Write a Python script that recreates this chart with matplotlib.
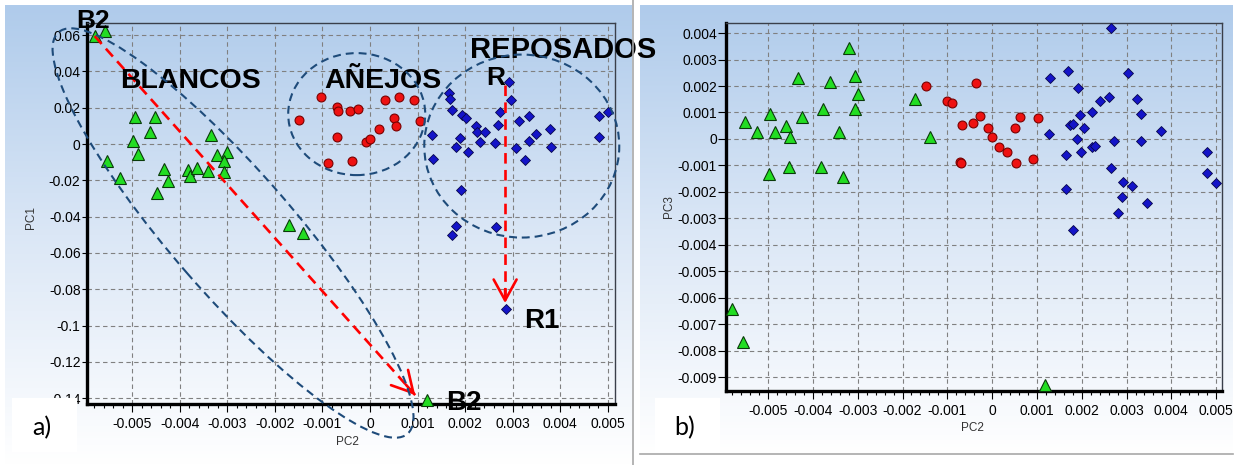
import numpy as np
import matplotlib
matplotlib.use("Agg")
import matplotlib.pyplot as plt
from matplotlib.patches import Ellipse, Rectangle
from matplotlib.lines import Line2D
from matplotlib.colors import LinearSegmentedColormap
from matplotlib.ticker import MultipleLocator, FuncFormatter
from matplotlib.transforms import IdentityTransform

plt.rcParams['font.family'] = ['Liberation Sans', 'DejaVu Sans']
plt.rcParams['axes.unicode_minus'] = False

# ---- panel a) PC2 vs PC1 ----
blancos_pc2_a = [-0.00579, -0.00558, -0.00494, -0.00453, -0.00462, -0.00499, -0.00487, -0.00553,
                 -0.00525, -0.00433, -0.00424, -0.00448, -0.00335, -0.00321, -0.00300, -0.00307,
                 -0.00307, -0.00383, -0.00378, -0.00363, -0.00340, -0.00170, -0.00140, 0.00119]
blancos_pc1 = [0.0595, 0.0624, 0.0147, 0.0147, 0.0064, 0.0018, -0.0055, -0.0092,
               -0.0189, -0.0138, -0.0204, -0.0268, 0.0050, -0.0061, -0.0046, -0.0092,
               -0.0153, -0.0143, -0.0175, -0.0134, -0.0149, -0.0446, -0.0492, -0.1410]

anejos_pc2_a = [-0.00149, -0.00103, -0.00070, -0.00067, -0.00042, -0.00025, 0.00032, 0.00061, 0.00092,
                0.00051, 0.00054, 0.00105, 0.00019, -0.00070, -0.00009, -0.00001, -0.00088, -0.00037]
anejos_pc1 = [0.0132, 0.0261, 0.0206, 0.0182, 0.0182, 0.0191, 0.0242, 0.0261, 0.0242,
              0.0142, 0.0099, 0.0128, 0.0081, 0.0040, 0.0009, 0.0026, -0.0106, -0.0092]

reposados_pc2_a = [0.00293, 0.00296, 0.00167, 0.00168, 0.00173, 0.00194, 0.00201, 0.00273, 0.00314,
                   0.00334, 0.00268, 0.00222, 0.00224, 0.00242, 0.00130, 0.00189, 0.00181, 0.00231,
                   0.00263, 0.00207, 0.00307, 0.00334, 0.00348, 0.00378, 0.00380, 0.00326, 0.00132,
                   0.00191, 0.00481, 0.00501, 0.00481, 0.00180, 0.00172, 0.00265, 0.00285]
reposados_pc1 = [0.0343, 0.0242, 0.0283, 0.0248, 0.0187, 0.0160, 0.0142, 0.0178, 0.0128,
                 0.0156, 0.0105, 0.0101, 0.0068, 0.0068, 0.0050, 0.0035, -0.0015, 0.0013,
                 0.0007, -0.0046, -0.0020, 0.0017, 0.0055, 0.0083, -0.0015, -0.0088, -0.0083,
                 -0.0253, 0.0156, 0.0178, 0.0040, -0.0450, -0.0501, -0.0456, -0.0909]

# ---- panel b) PC2 vs PC3 ----
blancos_pc2_b = [-0.00551, -0.00524, -0.00496, -0.00484, -0.00461, -0.00451, -0.00434, -0.00425,
                 -0.00497, -0.00453, -0.00382, -0.00378, -0.00363, -0.00341, -0.00333, -0.00319,
                 -0.00306, -0.00300, -0.00306, -0.00172, -0.00139, -0.00580, -0.00557, 0.00118]
blancos_pc3 = [0.00063, 0.00028, 0.00095, 0.00028, 0.00049, 0.00009, 0.00232, 0.00082,
               -0.00132, -0.00107, -0.00107, 0.00112, 0.00217, 0.00028, -0.00142, 0.00345,
               0.00236, 0.00170, 0.00113, 0.00150, 0.00009, -0.00642, -0.00766, -0.00930]

anejos_pc2_b = [-0.00148, -0.00101, -0.00090, -0.00036, -0.00068, -0.00043, -0.00027, -0.00010, -0.00001,
                0.00016, 0.00033, -0.00071, -0.00070, 0.00054, 0.00063, 0.00051, 0.00091, 0.00103]
anejos_pc3 = [0.00200, 0.00144, 0.00137, 0.00210, 0.00053, 0.00059, 0.00087, 0.00040, 0.00009,
              -0.00029, -0.00050, -0.00086, -0.00092, -0.00092, 0.00084, 0.00040, -0.00076, 0.00078]

reposados_pc2_b = [0.00266, 0.00170, 0.00129, 0.00304, 0.00191, 0.00261, 0.00241, 0.00323, 0.00222,
                   0.00195, 0.00332, 0.00173, 0.00181, 0.00205, 0.00377, 0.00128, 0.00189, 0.00271,
                   0.00332, 0.00223, 0.00230, 0.00198, 0.00165, 0.00479, 0.00479, 0.00499, 0.00266,
                   0.00293, 0.00313, 0.00290, 0.00345, 0.00282, 0.00165, 0.00180]
reposados_pc3 = [0.00418, 0.00258, 0.00232, 0.00248, 0.00194, 0.00160, 0.00145, 0.00151, 0.00101,
                 0.00091, 0.00094, 0.00053, 0.00057, 0.00043, 0.00031, 0.00018, -0.00001, -0.00006,
                 -0.00006, -0.00029, -0.00025, -0.00048, -0.00060, -0.00050, -0.00130, -0.00167, -0.00108,
                 -0.00161, -0.00178, -0.00220, -0.00243, -0.00281, -0.00189, -0.00344]

# group labels (data coords of panel a)
group_labels = ['BLANCOS', 'AÑEJOS', 'REPOSADOS']
group_label_pos = [(-0.00378, 0.0309), (0.00027, 0.0309), (0.00405, 0.0474)]

W, H = 1239, 465
fig = plt.figure(figsize=(W / 100, H / 100), dpi=100)
fig.patch.set_facecolor('white')

grad = LinearSegmentedColormap.from_list('bg', ['#AFCBEB', '#DBE7F6', '#FFFFFF'])


def panel_bg(x0, y0, x1, y1):
    bg = fig.add_axes([x0 / W, 1 - y1 / H, (x1 - x0) / W, (y1 - y0) / H], zorder=-10)
    bg.imshow(np.linspace(0, 1, 256)[:, None], cmap=grad, aspect='auto')
    bg.set_axis_off()


panel_bg(5, 5, 631, 465)
panel_bg(640, 5, 1233, 454)

fig.add_artist(Line2D([633 / W, 633 / W], [0, 1], color='#A8A8A8', lw=1.2))
fig.add_artist(Line2D([640 / W, 1233 / W], [1 - 454 / H, 1 - 454 / H], color='#A8A8A8', lw=1.2))


def tick_fmt(v, pos):
    s = f'{round(v, 6):g}'
    return '0' if s in ('-0', '0') else s


def setup(ax, xlim, ylim, ystep, ylabel, ytick_len):
    ax.set_facecolor('none')
    ax.set_xlim(*xlim)
    ax.set_ylim(*ylim)
    ax.xaxis.set_major_locator(MultipleLocator(0.001))
    ax.xaxis.set_minor_locator(MultipleLocator(0.0002))
    ax.yaxis.set_major_locator(MultipleLocator(ystep))
    ax.xaxis.set_major_formatter(FuncFormatter(tick_fmt))
    ax.yaxis.set_major_formatter(FuncFormatter(tick_fmt))
    ax.grid(True, which='major', linestyle=(0, (4, 3)), color='#808080', lw=0.8)
    ax.set_axisbelow(True)
    ax.tick_params(axis='x', which='major', length=5.5, width=0.8, pad=4, labelsize=10)
    ax.tick_params(axis='x', which='minor', length=3, width=0.8)
    ax.tick_params(axis='y', which='major', length=ytick_len, width=0.8, pad=1, labelsize=10)
    for side in ('left', 'bottom'):
        ax.spines[side].set_linewidth(2.4)
        ax.spines[side].set_color('black')
    for side in ('top', 'right'):
        ax.spines[side].set_linewidth(1.0)
        ax.spines[side].set_color('#3A3F4A')
    ax.set_xlabel('PC2', fontsize=8.5, color='#333333')
    ax.set_ylabel(ylabel, fontsize=8.5, color='#333333')


def scatter_groups(ax, xs, ys):
    ax.plot(xs[0], ys[0], linestyle='none', marker='^', ms=8.5, mfc='#22DD22', mec='#0A3A0A',
            mew=0.8, clip_on=False, zorder=3)
    ax.plot(xs[1], ys[1], linestyle='none', marker='o', ms=6.4, mfc='#EE1111', mec='#7A0000',
            mew=0.8, clip_on=False, zorder=3)
    ax.plot(xs[2], ys[2], linestyle='none', marker='D', ms=5.6, mfc='#1414C8', mec='#06064A',
            mew=0.6, clip_on=False, zorder=3)


# ---------------- panel a ----------------
axa = fig.add_axes([87 / W, 1 - 404 / H, 528 / W, 381 / H])
setup(axa, (-0.00595, 0.00515), (-0.1432, 0.0667), 0.02, 'PC1', 3.6)
axa.xaxis.set_label_coords(0.494, -0.085)
axa.yaxis.set_label_coords(-0.095, 0.49)
scatter_groups(axa, [blancos_pc2_a, anejos_pc2_a, reposados_pc2_a],
               [blancos_pc1, anejos_pc1, reposados_pc1])

# ---------------- panel b ----------------
axb = fig.add_axes([726 / W, 1 - 391 / H, 496 / W, 368 / H])
setup(axb, (-0.00594, 0.00513), (-0.00952, 0.00438), 0.001, 'PC3', 5.5)
axb.xaxis.set_label_coords(0.496, -0.085)
axb.yaxis.set_label_coords(-0.103, 0.5)
scatter_groups(axb, [blancos_pc2_b, anejos_pc2_b, reposados_pc2_b],
               [blancos_pc3, anejos_pc3, reposados_pc3])

# dashed group ellipses (center in data, size in pixels)
ell_color = '#1E4B7A'
for (cx, cy), w, h, ang in [((-0.00288, -0.0490), 532, 122, -49),
                            ((-0.00028, 0.0165), 137, 122, 0),
                            ((0.00319, -0.0011), 195, 183, 0)]:
    c = axa.transData.transform((cx, cy))
    fig.add_artist(Ellipse(c, w, h, angle=ang, transform=IdentityTransform(), fill=False,
                           edgecolor=ell_color, lw=1.5, linestyle=(0, (3.8, 2.4)), zorder=4))

# red dashed trend arrows
arrows = [((-0.00579, 0.0595), (0.00095, -0.1383)),
          ((0.00284, 0.0325), (0.00284, -0.0876))]
for (x0, y0), (x1, y1) in arrows:
    axa.plot([x0, x1], [y0, y1], color='#FF0000', lw=1.9, linestyle=(0, (4, 2.4)),
             clip_on=False, zorder=5)
    p0 = axa.transData.transform((x0, y0))
    p1 = axa.transData.transform((x1, y1))
    d = (p1 - p0) / np.hypot(*(p1 - p0))
    off = -d * 14 * 0.72
    axa.annotate('', xy=(x1, y1), xytext=(off[0], off[1]), textcoords='offset points',
                 arrowprops=dict(arrowstyle='->,head_length=1.0,head_width=0.55', mutation_scale=15,
                                 lw=1.9, color='#FF0000', shrinkA=0, shrinkB=0),
                 annotation_clip=False, zorder=5)

big_font = ['Liberation Sans Narrow', 'Liberation Sans']
for lab, (tx, ty) in zip(group_labels, group_label_pos):
    axa.text(tx, ty, lab, fontsize=21 if lab == 'REPOSADOS' else 20.5, fontweight='bold',
             family=big_font, ha='center', va='baseline', clip_on=False, zorder=6)
for lab, tx, ty, fs in [('B2', -0.00582, 0.0640, 19), ('R', 0.00265, 0.0325, 19),
                        ('R1', 0.00361, -0.1014, 20), ('B2', 0.00197, -0.1466, 20)]:
    axa.text(tx, ty, lab, fontsize=fs, fontweight='bold', family=big_font,
             ha='center', va='baseline', clip_on=False, zorder=6)

# panel tags
for tag, x0 in [('a)', 12), ('b)', 655)]:
    fig.add_artist(Rectangle((x0 / W, 13 / H), 65 / W, 54 / H, transform=fig.transFigure,
                             facecolor='white', edgecolor='none', zorder=8))
    fig.text((x0 + 30) / W, 1 - 428 / H, tag, fontsize=18, family=['Lato', 'DejaVu Sans'],
             ha='center', va='center', zorder=9)

fig.savefig('out.png', dpi=100)
